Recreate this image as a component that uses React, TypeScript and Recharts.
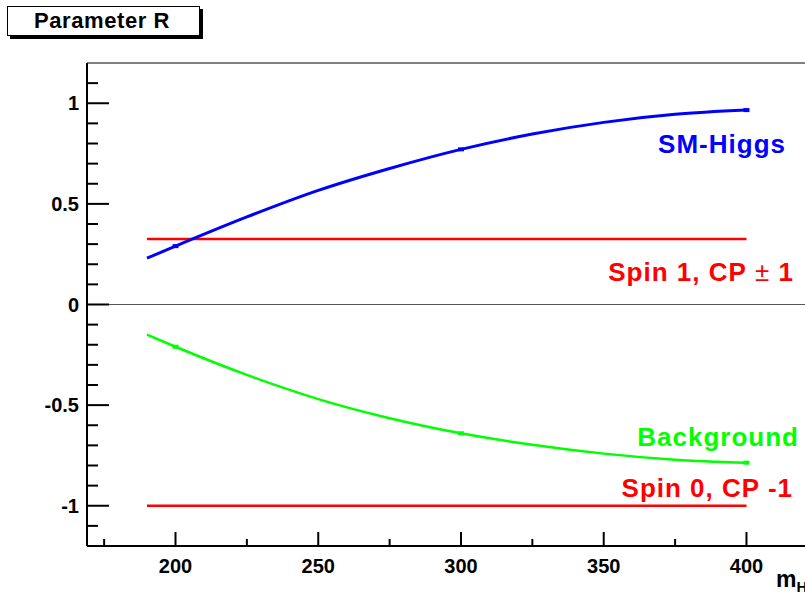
import React from 'react';
import { LineChart, Line, XAxis, YAxis, ReferenceLine } from 'recharts';

// values
const massPoints = [190, 200, 225, 250, 275, 300, 325, 350, 375, 400];
const smHiggs = [0.23, 0.29, 0.435, 0.567, 0.676, 0.771, 0.847, 0.905, 0.945, 0.966];
const background = [-0.15, -0.21, -0.35, -0.47, -0.565, -0.64, -0.697, -0.741, -0.771, -0.786];
const spinRange = [190, 400];
const spin1Value = 0.325;
const spin0Value = -1;
const markerMasses = [200, 300, 400];

const xTicks = [175, 200, 225, 250, 275, 300, 325, 350, 375, 400];
const xLabels = [200, 250, 300, 350, 400];
const yTicks = [-1.1, -1, -0.9, -0.8, -0.7, -0.6, -0.5, -0.4, -0.3, -0.2, -0.1, 0, 0.1, 0.2, 0.3, 0.4, 0.5, 0.6, 0.7, 0.8, 0.9, 1, 1.1];
const yLabels = [-1, -0.5, 0, 0.5, 1];

const higgsData = massPoints.map((m, i) => ({ m, v: smHiggs[i] }));
const bkgData = massPoints.map((m, i) => ({ m, v: background[i] }));
const spin1Data = spinRange.map((m) => ({ m, v: spin1Value }));
const spin0Data = spinRange.map((m) => ({ m, v: spin0Value }));

const FONT = '"Liberation Sans", Arial, Helvetica, sans-serif';

const XTick = (props: any) => {
  const { x, y, payload } = props;
  const major = xLabels.includes(payload.value);
  return (
    <g>
      <line x1={x} x2={x} y1={y} y2={y - (major ? 14 : 7)} stroke="#000" strokeWidth={2} />
      {major && (
        <text x={x} y={y + 27} textAnchor="middle" fontFamily={FONT} fontWeight="bold" fontSize={20} fill="#000">
          {payload.value}
        </text>
      )}
    </g>
  );
};

const YTick = (props: any) => {
  const { x, y, payload } = props;
  const major = yLabels.some((v) => Math.abs(v - payload.value) < 1e-6);
  return (
    <g>
      <line x1={x} x2={x + (major ? 22 : 11)} y1={y} y2={y} stroke="#000" strokeWidth={2} />
      {major && (
        <text x={x - 8} y={y + 7} textAnchor="end" fontFamily={FONT} fontWeight="bold" fontSize={20} fill="#000">
          {payload.value}
        </text>
      )}
    </g>
  );
};

const makeMarker = (color: string) => (props: any) => {
  const { cx, cy, payload, index } = props;
  if (!markerMasses.includes(payload.m)) return <g key={index} />;
  return <rect key={index} x={cx - 3} y={cy - 2} width={6} height={4} fill={color} />;
};

export default function App() {
  return (
    <div style={{ position: 'absolute', left: 0, top: 0, width: 805, height: 596, overflow: 'hidden', background: '#fff' }}>
      <LineChart width={805} height={596} margin={{ top: 63, right: 0, left: 0, bottom: 0 }}>
        <XAxis
          dataKey="m"
          type="number"
          domain={[169, 420.5]}
          ticks={xTicks}
          interval={0}
          allowDataOverflow
          height={50}
          tickSize={0}
          tickMargin={0}
          tickLine={false}
          axisLine={{ stroke: '#000', strokeWidth: 2 }}
          tick={<XTick />}
        />
        <YAxis
          dataKey="v"
          type="number"
          domain={[-1.2, 1.2]}
          ticks={yTicks}
          interval={0}
          allowDataOverflow
          width={87}
          tickSize={0}
          tickMargin={0}
          tickLine={false}
          axisLine={{ stroke: '#000', strokeWidth: 2 }}
          tick={<YTick />}
        />
        <ReferenceLine y={1.2} stroke="#000" strokeWidth={1} />
        <ReferenceLine y={0} stroke="#555" strokeWidth={1} />
        <Line data={spin1Data} dataKey="v" stroke="#ff0000" strokeWidth={2.5} dot={false} isAnimationActive={false} />
        <Line data={spin0Data} dataKey="v" stroke="#ff0000" strokeWidth={2.5} dot={false} isAnimationActive={false} />
        <Line data={higgsData} type="monotone" dataKey="v" stroke="#0000ff" strokeWidth={3} dot={makeMarker('#0000ff')} isAnimationActive={false} />
        <Line data={bkgData} type="monotone" dataKey="v" stroke="#00ff00" strokeWidth={2.5} dot={makeMarker('#00ff00')} isAnimationActive={false} />
      </LineChart>
      <svg width={805} height={596} style={{ position: 'absolute', left: 0, top: 0, pointerEvents: 'none' }}>
        <rect x={10} y={9} width={193} height={30} fill="#000" />
        <rect x={7.5} y={6.5} width={192} height={29} fill="#fff" stroke="#000" strokeWidth={1} />
        <text x={102} y={28} textAnchor="middle" fontFamily={FONT} fontWeight="bold" fontSize={22} letterSpacing={0.6} fill="#000">
          Parameter R
        </text>
        <g fontFamily={FONT} fontWeight="bold" fontSize={26} letterSpacing={1} textAnchor="end">
          <text x={786} y={153} fill="#0000ff">SM-Higgs</text>
          <text x={794} y={281} fill="#ff0000">
            Spin 1, CP<tspan fontWeight="normal"> ± </tspan>1
          </text>
          <text x={799} y={446} fill="#00ff00">Background</text>
          <text x={793} y={497} fill="#ff0000">Spin 0, CP -1</text>
        </g>
        <text x={776} y={587} fontFamily={FONT} fontWeight="bold" fontSize={23} fill="#000">
          m<tspan dy={5} fontSize={15}>H</tspan>
        </text>
      </svg>
    </div>
  );
}
